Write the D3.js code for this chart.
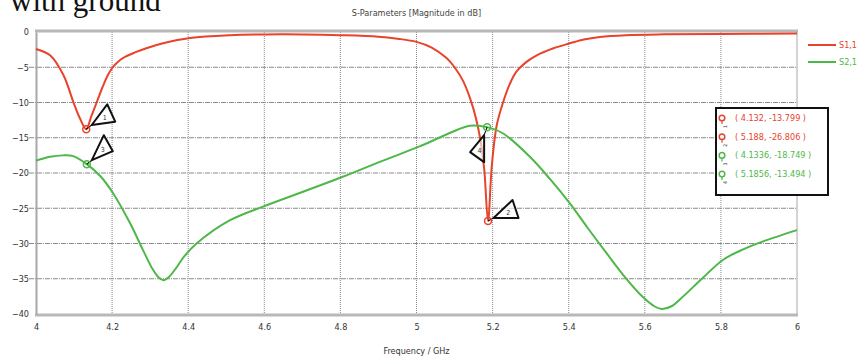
<!DOCTYPE html>
<html>
<head>
<meta charset="utf-8">
<script src="https://cdn.jsdelivr.net/npm/d3@7"></script>
<style>
  body { margin: 0; background: #fff; }
  svg { display: block; }
</style>
</head>
<body>
<svg id="chart" width="863" height="360"></svg>
<script>
// S1,1 (reflection)
const s11Freq = [4.0, 4.037, 4.072, 4.098, 4.115, 4.132, 4.145, 4.16, 4.175, 4.19, 4.203, 4.218, 4.235, 4.26, 4.29, 4.334, 4.405, 4.51, 4.6, 4.7, 4.8, 4.9, 4.95, 5.0, 5.04, 5.079, 5.1, 5.123, 5.149, 5.167, 5.178, 5.188, 5.198, 5.211, 5.228, 5.245, 5.263, 5.29, 5.316, 5.36, 5.403, 5.44, 5.482, 5.55, 5.65, 5.8, 6.0];
const s11Db = [-2.4, -3.3, -6.1, -9.9, -12.2, -13.8, -12.0, -9.9, -7.8, -6.0, -4.9, -4.1, -3.5, -2.9, -2.3, -1.6, -0.85, -0.45, -0.35, -0.35, -0.45, -0.66, -0.95, -1.4, -2.2, -3.7, -5.0, -7.0, -10.8, -15.0, -19.5, -26.8, -18.9, -13.2, -9.9, -7.4, -5.6, -4.2, -3.3, -2.3, -1.6, -1.05, -0.7, -0.45, -0.33, -0.27, -0.22];

// S2,1 (transmission)
const s21Freq = [4.0, 4.037, 4.07, 4.098, 4.1336, 4.17, 4.203, 4.247, 4.28, 4.305, 4.322, 4.335, 4.35, 4.368, 4.39, 4.422, 4.51, 4.6, 4.7, 4.808, 4.9, 5.005, 5.035, 5.106, 5.14, 5.1856, 5.228, 5.298, 5.35, 5.403, 5.45, 5.5, 5.55, 5.595, 5.625, 5.645, 5.67, 5.701, 5.75, 5.806, 5.86, 5.911, 6.0];
const s21Db = [-18.25, -17.7, -17.5, -17.6, -18.749, -20.5, -22.9, -27.1, -30.8, -33.5, -34.8, -35.2, -34.7, -33.5, -31.8, -30.0, -26.7, -24.7, -22.7, -20.5, -18.5, -16.3, -15.6, -13.9, -13.3, -13.494, -14.4, -17.7, -20.8, -24.3, -27.8, -31.4, -34.9, -37.6, -38.9, -39.3, -38.9, -37.5, -35.0, -32.3, -30.8, -29.7, -28.1];

const seriesNames = ["S1,1", "S2,1"];

// markers
const markerIds = [1, 2, 3, 4];
const markerSeries = [0, 0, 1, 1];
const markerFreq = [4.132, 5.188, 4.1336, 5.1856];
const markerDb = [-13.799, -26.806, -18.749, -13.494];
const markerLabels = ["( 4.132, -13.799 )", "( 5.188, -26.806 )", "( 4.1336, -18.749 )", "( 5.1856, -13.494 )"];

const xTicks = [4, 4.2, 4.4, 4.6, 4.8, 5, 5.2, 5.4, 5.6, 5.8, 6];
const yTicks = [0, -5, -10, -15, -20, -25, -30, -35, -40];

const colors = ["#e8432b", "#4db848"];
const tickFont = "'DejaVu Sans Condensed', 'DejaVu Sans', sans-serif";

const svg = d3.select("#chart");

const margin = {top: 32, right: 66, bottom: 46, left: 36};
const width = 863 - margin.left - margin.right,
      height = 360 - margin.top - margin.bottom;

const x = d3.scaleLinear().domain([4, 6]).range([0, width]);
const y = d3.scaleLinear().domain([-40, 0]).range([height, 0]);

// caption fragment cut off at the top (as in the source)
svg.append("text")
  .attr("x", 10).attr("y", 11)
  .style("font-family", "'Liberation Serif', 'DejaVu Serif', serif")
  .style("font-size", "31px")
  .attr("fill", "#111")
  .text("with ground");

svg.append("text")
  .attr("x", margin.left + x(5)).attr("y", 16)
  .attr("text-anchor", "middle")
  .style("font-family", tickFont)
  .style("font-size", "9px")
  .attr("fill", "#444")
  .text("S-Parameters [Magnitude in dB]");

const g = svg.append("g")
  .attr("transform", `translate(${margin.left}, ${margin.top})`);

// grid
g.append("g")
  .selectAll("line")
  .data(yTicks.filter(d => d != 0 && d != -40))
  .enter().append("line")
  .attr("x1", -7).attr("x2", width)
  .attr("y1", d => y(d)).attr("y2", d => y(d))
  .attr("stroke", "#8a8a8a")
  .attr("stroke-width", 1)
  .attr("stroke-dasharray", "5,1,1,1");

g.append("g")
  .selectAll("line")
  .data(xTicks.filter(d => d != 4 && d != 6))
  .enter().append("line")
  .attr("x1", d => x(d)).attr("x2", d => x(d))
  .attr("y1", 0).attr("y2", height)
  .attr("stroke", "#8a8a8a")
  .attr("stroke-width", 1)
  .attr("stroke-dasharray", "1,1");

// frame
g.append("line").attr("x1", width).attr("x2", width).attr("y1", 0).attr("y2", height)
  .attr("stroke", "#a8a8a8").attr("stroke-width", 1);
g.append("line").attr("x1", -1).attr("x2", width + 1).attr("y1", -1).attr("y2", -1)
  .attr("stroke", "#b8b8b8").attr("stroke-width", 3);
g.append("line").attr("x1", -1).attr("x2", width + 1).attr("y1", height + 1).attr("y2", height + 1)
  .attr("stroke", "#b8b8b8").attr("stroke-width", 3);

// axes
let yAxis = g.append("g")
  .call(d3.axisLeft(y).tickValues(yTicks).tickSize(0).tickPadding(7));
yAxis.select(".domain").attr("stroke", "#a8a8a8").attr("stroke-width", 2);
yAxis.selectAll("text").style("font-family", tickFont).style("font-size", "9px").attr("fill", "#333");

let xAxis = g.append("g")
  .attr("transform", `translate(0, ${height})`)
  .call(d3.axisBottom(x).tickValues(xTicks).tickSize(0).tickPadding(10).tickFormat(d3.format("")));
xAxis.select(".domain").remove();
xAxis.selectAll("text").style("font-family", tickFont).style("font-size", "9px").attr("fill", "#333");

svg.append("text")
  .attr("x", margin.left + x(5)).attr("y", 354)
  .attr("text-anchor", "middle")
  .style("font-family", tickFont)
  .style("font-size", "9px")
  .attr("fill", "#333")
  .text("Frequency / GHz");

// curves
let line = d3.line()
  .x(d => x(d[0]))
  .y(d => y(d[1]))
  .curve(d3.curveCatmullRom.alpha(0.5));

let curves = [d3.zip(s11Freq, s11Db), d3.zip(s21Freq, s21Db)];

curves.forEach(function (pts, i) {
  g.append("path")
    .datum(pts)
    .attr("fill", "none")
    .attr("stroke", colors[i])
    .attr("stroke-width", 2)
    .attr("d", line);
});

// marker flags: triangle offsets from the marker point
const flagShapes = [
  [[5.5, -4.3], [21, -25], [29, -7.6]],
  [[5.5, -3], [24.5, -21], [30.5, -3]],
  [[5, -4], [17, -29], [26, -13]],
  [[-3, 8], [-17, 25], [-3, 35]]
];

markerIds.forEach(function (id, i) {
  let px = x(markerFreq[i]), py = y(markerDb[i]);
  let tri = flagShapes[i].map(p => [px + p[0], py + p[1]]);
  g.append("line")
    .attr("x1", px).attr("y1", py)
    .attr("x2", tri[0][0]).attr("y2", tri[0][1])
    .attr("stroke", "#111").attr("stroke-width", 1.2);
  g.append("polygon")
    .attr("points", tri.map(p => p.join(",")).join(" "))
    .attr("fill", "rgba(255,255,255,0.6)")
    .attr("stroke", "#111")
    .attr("stroke-width", 2)
    .attr("stroke-linejoin", "round");
  let cx = d3.mean(tri, p => p[0]), cy = d3.mean(tri, p => p[1]);
  g.append("text")
    .attr("x", cx).attr("y", cy + 3)
    .attr("text-anchor", "middle")
    .style("font-family", tickFont)
    .style("font-size", "7px")
    .attr("fill", "#333")
    .text(id);
  g.append("circle")
    .attr("cx", px).attr("cy", py).attr("r", 3.5)
    .attr("fill", "none")
    .attr("stroke", colors[markerSeries[i]])
    .attr("stroke-width", 1.5);
});

// legend
seriesNames.forEach(function (name, i) {
  let ly = 45 + i * 17;
  svg.append("line")
    .attr("x1", 808).attr("x2", 836).attr("y1", ly).attr("y2", ly)
    .attr("stroke", colors[i]).attr("stroke-width", 2);
  svg.append("text")
    .attr("x", 839).attr("y", ly + 3)
    .style("font-family", tickFont)
    .style("font-size", "9px")
    .attr("fill", colors[i])
    .text(name);
});

// marker readout box
svg.append("rect")
  .attr("x", 716).attr("y", 108).attr("width", 112).attr("height", 87)
  .attr("fill", "#fff")
  .attr("stroke", "#111")
  .attr("stroke-width", 2);

markerLabels.forEach(function (label, i) {
  let ty = 121 + i * 18.7;
  let c = colors[markerSeries[i]];
  svg.append("circle")
    .attr("cx", 722).attr("cy", ty - 3).attr("r", 2.8)
    .attr("fill", "none").attr("stroke", c).attr("stroke-width", 1.5);
  svg.append("line")
    .attr("x1", 722).attr("x2", 722).attr("y1", ty).attr("y2", ty + 3)
    .attr("stroke", c).attr("stroke-width", 1.2);
  svg.append("text")
    .attr("transform", `translate(727, ${ty + 7}) rotate(-90)`)
    .style("font-family", tickFont)
    .style("font-size", "5px")
    .attr("fill", "#333")
    .text(markerIds[i]);
  svg.append("text")
    .attr("x", 735).attr("y", ty)
    .style("font-family", tickFont)
    .style("font-size", "9px")
    .attr("fill", c)
    .text(label);
});
</script>
</body>
</html>
